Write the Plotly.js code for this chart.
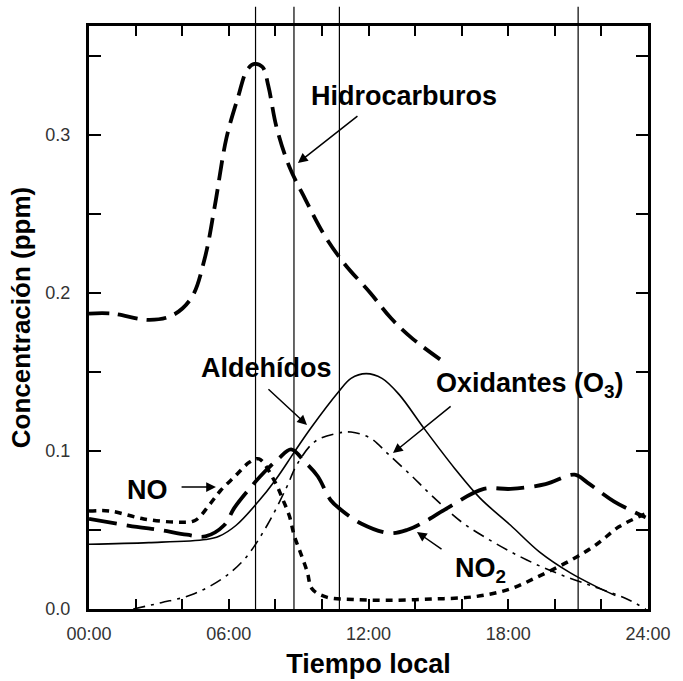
<!DOCTYPE html>
<html>
<head>
<meta charset="utf-8">
<script src="https://cdn.plot.ly/plotly-3.0.1.min.js"></script>
<style>html,body{margin:0;padding:0;background:#fff;}#chart{width:683px;height:681px;}</style>
</head>
<body>
<div id="chart"></div>
<script>
// ---- data (hours of the day, concentration in ppm) ----
const hcHours  = [0, 1.0, 2.6, 3.6, 4.4, 4.97, 5.4, 5.9, 6.4, 6.78, 7.1, 7.45, 7.7, 8.05, 8.6, 9.3, 10.05, 10.94, 12.08, 12.97, 13.9, 15.17];
const hcValues = [0.187, 0.187, 0.183, 0.186, 0.197, 0.222, 0.255, 0.298, 0.324, 0.341, 0.345, 0.343, 0.331, 0.305, 0.280, 0.259, 0.238, 0.219, 0.200, 0.184, 0.171, 0.157];

const aldHours  = [0, 2.57, 5.02, 5.58, 6.32, 7.27, 8.02, 8.8, 9.55, 10.69, 11.25, 11.9, 12.58, 13.3, 14.4, 15.7, 16.8, 18.1, 19.35, 20.65, 21.8, 22.6];
const aldValues = [0.041, 0.042, 0.044, 0.046, 0.053, 0.068, 0.082, 0.099, 0.115, 0.137, 0.146, 0.149, 0.146, 0.136, 0.114, 0.089, 0.070, 0.053, 0.036, 0.023, 0.014, 0.0085];

const oxHours  = [1.9, 3.1, 4.4, 5.7, 6.7, 7.65, 8.45, 8.95, 9.7, 10.6, 11.25, 12.1, 12.85, 13.8, 14.7, 16.0, 17.4, 18.8, 20.2, 21.7, 23.0, 23.9];
const oxValues = [0.0, 0.004, 0.009, 0.019, 0.032, 0.053, 0.076, 0.092, 0.106, 0.111, 0.112, 0.108, 0.098, 0.085, 0.072, 0.055, 0.042, 0.031, 0.022, 0.014, 0.007, 0.0];

const noHours  = [0, 0.9, 2.35, 3.77, 4.55, 5.17, 5.65, 6.27, 6.9, 7.3, 8.0, 8.3, 8.6, 8.82, 9.07, 9.37, 9.58, 10.2, 11.35, 12.8, 14.7, 16.55, 18.05, 19.35, 20.7, 21.8, 22.75, 23.85];
const noValues = [0.062, 0.062, 0.057, 0.055, 0.056, 0.066, 0.075, 0.084, 0.093, 0.095, 0.080, 0.070, 0.059, 0.046, 0.036, 0.0235, 0.0127, 0.0075, 0.006, 0.0055, 0.0063, 0.0078, 0.0125, 0.021, 0.031, 0.041, 0.052, 0.060];

const no2Hours  = [0, 2.05, 3.04, 4.2, 5.0, 5.8, 6.24, 6.94, 7.55, 8.12, 8.68, 9.27, 9.82, 10.37, 10.8, 11.7, 12.9, 13.65, 14.5, 15.4, 16.95, 18.1, 19.6, 20.85, 21.4, 22.55, 23.9];
const no2Values = [0.057, 0.052, 0.050, 0.047, 0.046, 0.053, 0.064, 0.077, 0.087, 0.095, 0.101, 0.093, 0.084, 0.069, 0.063, 0.054, 0.048, 0.050, 0.056, 0.064, 0.076, 0.076, 0.079, 0.085, 0.080, 0.068, 0.058];

// reference times drawn as thin vertical lines
const refHours = [7.15, 8.8, 10.75, 21.0];

// ticks
const xTickVals  = [0, 6, 12, 18, 24];
const xTickText  = ['00:00', '06:00', '12:00', '18:00', '24:00'];
const xMinorVals = [2, 4, 8, 10, 14, 16, 20, 22];
const yTickVals  = [0, 0.1, 0.2, 0.3];
const yTickText  = ['0.0', '0.1', '0.2', '0.3'];
const yMinorVals = [0.05, 0.15, 0.25, 0.35];

// labels
const labels = {
  hc:  'Hidrocarburos',
  ald: 'Aldehídos',
  ox:  'Oxidantes (O<sub>3</sub>)',
  no:  'NO',
  no2: 'NO<sub>2</sub>'
};

const mk = (x, y, w, dash) => ({
  x: x, y: y, type: 'scatter', mode: 'lines', showlegend: false, hoverinfo: 'skip',
  line: {color: '#000', width: w, dash: dash, shape: 'spline', smoothing: 1}
});

const traces = [
  mk(aldHours, aldValues, 1.6, 'solid'),
  mk(oxHours, oxValues, 1.6, '12px,6px,3px,6px'),
  mk(noHours, noValues, 3.5, '7px,6px'),
  mk(no2Hours, no2Values, 3.8, '28px,10px'),
  mk(hcHours, hcValues, 3.8, '20px,9px')
];

const shapes = refHours.map(h => ({
  type: 'line', xref: 'x', yref: 'paper', x0: h, x1: h, y0: 0, y1: 1.033,
  line: {color: '#000', width: 1.2}
}));

const bold = {family: 'Liberation Sans, Arial, sans-serif', size: 27, color: '#000', weight: 'bold'};
const txt = (x, y, t) => ({x: x, y: y, xref: 'x', yref: 'y', text: '<b>' + t + '</b>', showarrow: false, font: bold});
const arr = (x, y, ax, ay) => ({x: x, y: y, ax: ax, ay: ay, xref: 'x', yref: 'y', axref: 'x', ayref: 'y',
  text: '', showarrow: true, arrowhead: 2, arrowsize: 1.3, arrowwidth: 1.5, arrowcolor: '#000'});

const annotations = [
  txt(13.52, 0.3247, labels.hc),
  arr(8.97, 0.2823, 11.59, 0.3127),
  txt(7.64, 0.1525, labels.ald),
  arr(9.36, 0.1165, 7.64, 0.140),
  txt(18.93, 0.1418, labels.ox),
  arr(13.05, 0.0987, 15.59, 0.129),
  txt(2.49, 0.0753, labels.no),
  arr(5.45, 0.0772, 3.91, 0.0772),
  txt(16.79, 0.0247, labels.no2),
  arr(14.08, 0.0487, 15.2, 0.0373)
];

const tickFont = {family: 'Liberation Sans, Arial, sans-serif', size: 18, color: '#333'};
const minorX = {tickmode: 'array', tickvals: xMinorVals, ticks: 'inside', ticklen: 10, tickwidth: 2, tickcolor: '#000', showgrid: false};
const minorY = {tickmode: 'array', tickvals: yMinorVals, ticks: 'inside', ticklen: 12, tickwidth: 2, tickcolor: '#000', showgrid: false};

const layout = {
  width: 683, height: 681,
  margin: {l: 89, r: 35, t: 26, b: 72},
  paper_bgcolor: '#fff', plot_bgcolor: '#fff',
  xaxis: {
    range: [0, 24], tickmode: 'array', tickvals: xTickVals, ticktext: xTickText, minor: minorX,
    ticks: 'inside', ticklen: 10, tickwidth: 2, tickcolor: '#000',
    showline: true, linewidth: 3, linecolor: '#000', mirror: 'ticks',
    showgrid: false, zeroline: false, tickfont: tickFont, ticklabelstandoff: 6,
    title: {text: '<b>Tiempo local</b>', font: {family: 'Liberation Sans, Arial, sans-serif', size: 27, color: '#000'}, standoff: 12}
  },
  yaxis: {
    range: [0, 0.369], tickmode: 'array', tickvals: yTickVals, ticktext: yTickText, minor: minorY,
    ticks: 'inside', ticklen: 12, tickwidth: 2, tickcolor: '#000',
    showline: true, linewidth: 3, linecolor: '#000', mirror: 'ticks',
    showgrid: false, zeroline: false, tickfont: tickFont, ticklabelstandoff: 12,
    title: {text: '<b>Concentración (ppm)</b>', font: {family: 'Liberation Sans, Arial, sans-serif', size: 26, color: '#000'}, standoff: 8}
  },
  shapes: shapes,
  annotations: annotations
};

Plotly.newPlot('chart', traces, layout, {displayModeBar: false, staticPlot: true});
</script>
</body>
</html>
